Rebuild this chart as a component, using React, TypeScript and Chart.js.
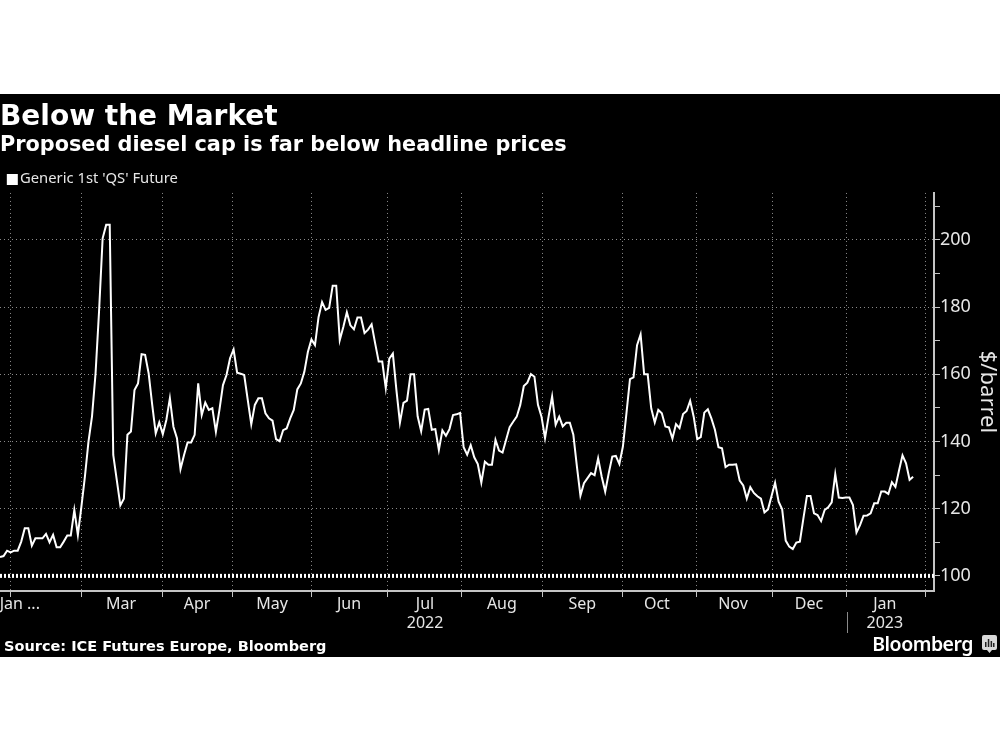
import React, { useEffect, useRef } from "react";
import { Chart, registerables } from "chart.js";

Chart.register(...registerables);

const titleText = "Below the Market";
const subtitleText = "Proposed diesel cap is far below headline prices";
const seriesName = "Generic 1st 'QS' Future";
const capName = "Proposed cap";
const sourceText = "Source: ICE Futures Europe, Bloomberg";
const brandText = "Bloomberg";
const yTitle = "$/barrel";

const prices = [
  105.6, 105.9, 107.5, 107, 107.5, 107.5, 110.2, 114.2, 114.2, 109,
  111.2, 111.2, 111.2, 112.5, 110, 112.2, 108.5, 108.5, 110.2, 112,
  112, 119.6, 112.2, 120.6, 129.6, 140, 147.5, 160.3, 179, 200.5,
  204.5, 204.5, 136, 128.5, 121, 123, 142, 143, 155.3, 157.3,
  166, 165.8, 160.3, 151, 142.4, 145.7, 142.2, 146.4, 152.9, 144.4,
  141, 131.8, 136, 139.7, 139.7, 142, 157.3, 147.9, 151.6, 149.4,
  149.9, 142.9, 149.4, 156.8, 159.8, 164.8, 167.4, 160.5, 160.2, 159.8,
  152.4, 145.1, 150.9, 152.9, 152.9, 148.4, 146.9, 146.2, 140.7, 140.1,
  143.4, 143.9, 146.9, 149.4, 155.5, 157.3, 160.8, 166.7, 170.4, 168.7,
  177, 181.5, 179.2, 179.8, 186.4, 186.4, 170.2, 174.1, 178.5, 174.6,
  173.4, 176.9, 176.9, 172.3, 173.3, 174.9, 169.2, 163.8, 163.8, 155.9,
  164.7, 166.2, 155.4, 145.6, 151.5, 152.2, 160, 160, 147.5, 143.1,
  149.5, 149.7, 143.5, 143.7, 137.5, 143.3, 141.7, 143.7, 147.9, 148.1,
  148.5, 138.3, 136.1, 138.9, 135.3, 133.3, 127.8, 134, 133.1, 133.1,
  140.5, 137.3, 136.7, 140.5, 144.3, 145.9, 147.4, 150.9, 156.5, 157.5,
  160.1, 159.3, 150.9, 147.4, 141, 147.4, 153.4, 145, 147.4, 144.5,
  145.6, 145.6, 142, 132.6, 123.9, 127.6, 129.1, 130.6, 130, 135,
  129.6, 125.1, 130.6, 135.5, 135.7, 133.3, 138.5, 148.4, 158.6, 159.1,
  168.7, 171.9, 160, 160, 149.9, 145.7, 149.4, 148.4, 144.5, 144.2,
  140.9, 145.2, 144, 148.2, 149.1, 152.1, 147.4, 140.7, 141.3, 148.6,
  149.6, 146.9, 143.5, 138.3, 138, 132.4, 133.1, 133.1, 133.2, 128.4,
  126.9, 123, 126.4, 124.7, 123.7, 123, 118.9, 119.8, 123.8, 127.7,
  122.1, 119.8, 110.5, 108.7, 108, 109.9, 110.2, 117.1, 123.8, 123.8,
  118.6, 118.1, 116.3, 119.6, 120.4, 121.9, 130.3, 123.3, 123.2, 123.3,
  123.3, 121.1, 112.9, 115.1, 117.9, 118, 118.6, 121.6, 121.6, 125.1,
  125.1, 124.4, 127.9, 126.5, 131.3, 135.9, 133.5, 128.6, 129.5,
];

const capLevel = [100, 100];
const xRange = [0, 263.9];
const yRange = [95.5, 214];
const yTicks = [100, 110, 120, 130, 140, 150, 160, 170, 180, 190, 200, 210];
const yLabelled = [100, 120, 140, 160, 180, 200];

const monthStarts = [3.1, 22.9, 46, 65.8, 87.9, 109.6, 130.5, 153.4, 175.8, 196.7, 218.4, 239.3, 261.4];
const labelPositions = [5.6, 34.2, 55.7, 76.9, 98.6, 120.1, 141.8, 164.5, 185.6, 207.1, 228.6, 250];
const monthLabels: (string | string[])[] = [
  "Jan ...", "Mar", "Apr", "May", "Jun", ["Jul", "2022"], "Aug", "Sep", "Oct", "Nov", "Dec", ["Jan", "2023"],
];
const yearDivider = 239.3;

const TEXT = "#e6e6e6";
const AXIS = "#c4c4c4";
const GRID = "#8a8a8a";
const LABEL_FONT = "'Noto Sans', sans-serif";
const BOLD_FONT = "'DejaVu Sans', sans-serif";

const dividerPlugin = {
  id: "yearDivider",
  afterDraw(chart: any) {
    const x = chart.scales.x.getPixelForValue(yearDivider);
    const { ctx } = chart;
    ctx.save();
    ctx.strokeStyle = "#8a8a8a";
    ctx.lineWidth = 1;
    ctx.beginPath();
    ctx.moveTo(Math.round(x) + 0.5, 518);
    ctx.lineTo(Math.round(x) + 0.5, 539);
    ctx.stroke();
    ctx.restore();
  },
};

function legendSwatch() {
  const c = document.createElement("canvas");
  c.width = 30;
  c.height = 12;
  const g = c.getContext("2d")!;
  g.fillStyle = "#ffffff";
  g.fillRect(15, 1, 11, 11);
  return c;
}

export default function App() {
  const ref = useRef<HTMLCanvasElement | null>(null);

  useEffect(() => {
    if (!ref.current) return;
    const chart = new Chart(ref.current, {
      type: "line",
      data: {
        datasets: [
          {
            label: seriesName,
            data: prices.map((y, x) => ({ x, y })),
            borderColor: "#ffffff",
            backgroundColor: "#ffffff",
            borderWidth: 2,
            pointRadius: 0,
            tension: 0,
            order: 1,
          },
          {
            label: capName,
            data: capLevel.map((y, i) => ({ x: xRange[i], y })),
            borderColor: "#ffffff",
            borderWidth: 4,
            borderDash: [2, 2],
            pointRadius: 0,
            order: 0,
          },
        ],
      },
      options: {
        responsive: false,
        animation: false,
        parsing: false,
        layout: { padding: { top: 0, left: 0, right: 0, bottom: 0 } },
        plugins: {
          title: {
            display: true,
            text: titleText,
            align: "start",
            color: "#ffffff",
            font: { family: BOLD_FONT, size: 28, weight: "bold" },
            padding: { top: 7, bottom: 0 },
          },
          subtitle: {
            display: true,
            text: subtitleText,
            align: "start",
            color: "#ffffff",
            font: { family: BOLD_FONT, size: 20.8, weight: "bold" },
            padding: { top: -1, bottom: 12 },
          },
          legend: {
            display: true,
            position: "top",
            align: "start",
            maxHeight: 22.4,
            labels: {
              color: TEXT,
              font: { family: LABEL_FONT, size: 14.8 },
              usePointStyle: true,
              pointStyle: legendSwatch(),
              pointStyleWidth: 11.6,
              padding: 1,
              filter: (item: any) => item.text === seriesName,
            },
          },
          tooltip: { enabled: false },
        },
        scales: {
          x: {
            type: "linear",
            min: xRange[0],
            max: xRange[1],
            afterBuildTicks: (scale: any) => {
              scale.ticks = [...monthStarts, ...labelPositions]
                .sort((a, b) => a - b)
                .map((value) => ({ value }));
            },
            afterFit: (scale: any) => {
              scale.height = 66;
            },
            border: { color: AXIS, width: 2, dash: [1, 3] },
            grid: {
              color: (c: any) => (monthStarts.includes(c.tick?.value) ? GRID : "transparent"),
              tickColor: (c: any) => (monthStarts.includes(c.tick?.value) ? AXIS : "transparent"),
              tickLength: 6,
              lineWidth: 1,
            },
            ticks: {
              autoSkip: false,
              maxRotation: 0,
              color: TEXT,
              padding: -2,
              font: { family: LABEL_FONT, size: 16 },
              callback: (value: any) => {
                const i = labelPositions.indexOf(value);
                return i >= 0 ? monthLabels[i] : "";
              },
            },
          },
          y: {
            type: "linear",
            position: "right",
            min: yRange[0],
            max: yRange[1],
            afterBuildTicks: (scale: any) => {
              scale.ticks = yTicks.map((value) => ({ value }));
            },
            afterFit: (scale: any) => {
              scale.width = 66;
            },
            border: { color: AXIS, width: 2, dash: [1, 3] },
            grid: {
              color: (c: any) => (yLabelled.includes(c.tick?.value) ? GRID : "transparent"),
              tickColor: AXIS,
              tickLength: 6,
              lineWidth: 1,
            },
            ticks: {
              autoSkip: false,
              color: TEXT,
              padding: 0,
              font: { family: LABEL_FONT, size: 18 },
              callback: (value: any) => (yLabelled.includes(value) ? String(value) : ""),
            },
            title: {
              display: true,
              text: yTitle,
              color: TEXT,
              font: { family: LABEL_FONT, size: 22 },
              padding: 0,
            },
          },
        },
      },
      plugins: [dividerPlugin],
    } as any);
    return () => chart.destroy();
  }, []);

  return (
    <div style={{ position: "absolute", left: 0, top: 0, width: 1000, height: 750, background: "#fff", overflow: "hidden" }}>
      <canvas
        ref={ref}
        width={1000}
        height={563}
        style={{ position: "absolute", left: 0, top: 94, width: 1000, height: 563, background: "#000" }}
      />
      <div
        style={{
          position: "absolute",
          left: 4,
          top: 638,
          color: "#fff",
          fontFamily: BOLD_FONT,
          fontWeight: "bold",
          fontSize: 14.5,
          whiteSpace: "nowrap",
        }}
      >
        {sourceText}
      </div>
      <div
        style={{
          position: "absolute",
          right: 27,
          top: 630,
          color: "#fff",
          fontFamily: "'Noto Sans', sans-serif",
          fontWeight: 600,
          fontSize: 19.5,
          letterSpacing: -0.5,
          whiteSpace: "nowrap",
        }}
      >
        {brandText}
      </div>
      <svg style={{ position: "absolute", left: 982, top: 635 }} width={15} height={18} viewBox="0 0 15 18">
        <path d="M2 0H13a2 2 0 0 1 2 2V13a2 2 0 0 1-2 2H10L7.5 18L5 15H2a2 2 0 0 1-2-2V2a2 2 0 0 1 2-2Z" fill="#d8d8d8" />
        <rect x="3" y="7" width="1.5" height="5" fill="#222" />
        <rect x="5.8" y="4" width="1.5" height="8" fill="#222" />
        <rect x="8.6" y="6" width="1.5" height="6" fill="#222" />
        <rect x="11" y="8" width="1.5" height="4" fill="#222" />
      </svg>
    </div>
  );
}
